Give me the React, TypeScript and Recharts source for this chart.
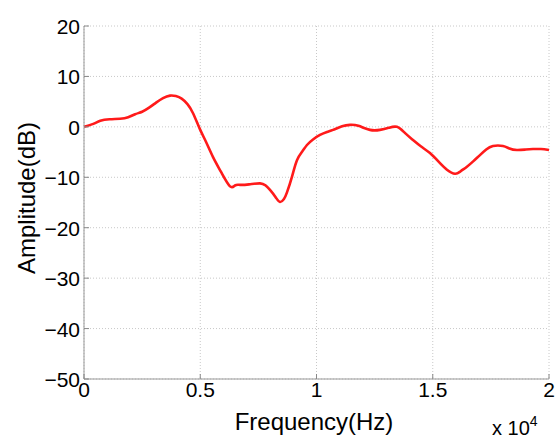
import React from 'react';
import { LineChart, Line, XAxis, YAxis, CartesianGrid, Label } from 'recharts';

const freqHz = [0, 400, 700, 1100, 1550, 1900, 2200, 2500, 2800, 3100, 3400, 3700, 3950, 4200, 4450, 4690, 4990, 5250, 5550, 5900, 6280, 6500, 6710, 7100, 7570, 7800, 8000, 8250, 8430, 8600, 8730, 8950, 9160, 9400, 9590, 9850, 10150, 10450, 10710, 11100, 11440, 11800, 12300, 12730, 13100, 13460, 13800, 14150, 14500, 14880, 15250, 15610, 15960, 16200, 16470, 16750, 17030, 17300, 17590, 18020, 18300, 18620, 19000, 19310, 19650, 20000];
const amplitudeDb = [0, 0.6, 1.2, 1.5, 1.6, 1.9, 2.5, 3.0, 3.8, 4.8, 5.7, 6.2, 6.1, 5.6, 4.5, 2.7, -0.5, -3.0, -6.0, -9.0, -11.8, -11.6, -11.5, -11.4, -11.2, -11.6, -12.5, -14.0, -14.9, -14.3, -13.0, -9.8, -6.6, -4.8, -3.6, -2.5, -1.6, -1.0, -0.6, 0.1, 0.4, 0.2, -0.6, -0.6, -0.2, 0.0, -1.2, -2.6, -3.9, -5.2, -6.9, -8.5, -9.3, -8.8, -7.9, -6.8, -5.6, -4.5, -3.8, -3.8, -4.3, -4.6, -4.5, -4.4, -4.4, -4.6];

const xTicks = [0, 5000, 10000, 15000, 20000];
const xTickLabels = ['0', '0.5', '1', '1.5', '2'];
const yTicks = [-50, -40, -30, -20, -10, 0, 10, 20];

const data = freqHz.map((f, i) => ({ f, a: amplitudeDb[i] }));

const FONT = '"Liberation Sans", Arial, sans-serif';

const XTick = (props: any) => {
  const { x, y, payload } = props;
  const idx = xTicks.indexOf(payload.value);
  return (
    <g>
      <line x1={x} x2={x} y1={y} y2={y - 5} stroke="#888" strokeWidth={1} />
      <text x={x} y={y + 18} textAnchor="middle" fontFamily={FONT} fontSize={21} fill="#000">
        {idx >= 0 ? xTickLabels[idx] : payload.value}
      </text>
    </g>
  );
};

const YTick = (props: any) => {
  const { x, y, payload } = props;
  const v = payload.value;
  const s = v < 0 ? '\u2212' + Math.abs(v) : String(v);
  return (
    <g>
      <line x1={x} x2={x + 5} y1={y} y2={y} stroke="#888" strokeWidth={1} />
      <text x={x - 4} y={y + 8} textAnchor="end" fontFamily={FONT} fontSize={21} fill="#000">
        {s}
      </text>
    </g>
  );
};

export default function App() {
  return (
    <div style={{ position: 'absolute', left: 0, top: 0, width: 555, height: 441, background: '#fff', overflow: 'hidden' }}>
      <LineChart width={555} height={441} data={data} margin={{ top: 26, right: 6, bottom: 0, left: 0 }}>
        <CartesianGrid stroke="#c8c8c8" strokeDasharray="1 2" horizontal vertical />
        <XAxis
          dataKey="f"
          type="number"
          domain={[0, 20000]}
          ticks={xTicks}
          interval={0}
          height={62}
          tickLine={false}
          tickSize={0}
          tickMargin={0}
          stroke="#999"
          tick={<XTick />}
        >
          <Label
            content={() => (
              <text x={314} y={430} textAnchor="middle" fontFamily={FONT} fontSize={24} fill="#000">
                Frequency(Hz)
              </text>
            )}
          />
        </XAxis>
        <YAxis
          type="number"
          domain={[-50, 20]}
          ticks={yTicks}
          interval={0}
          width={84}
          tickLine={false}
          tickSize={0}
          tickMargin={0}
          stroke="#999"
          tick={<YTick />}
        >
          <Label
            content={() => (
              <text x={35} y={198} transform="rotate(-90 35 198)" textAnchor="middle" fontFamily={FONT} fontSize={24} fill="#000">
                Amplitude(dB)
              </text>
            )}
          />
        </YAxis>
        <Line type="natural" dataKey="a" stroke="#ff1a1a" strokeWidth={2.6} dot={false} isAnimationActive={false} />
      </LineChart>
      <div style={{ position: 'absolute', left: 492, top: 418, fontFamily: FONT, fontSize: 20, color: '#000', whiteSpace: 'nowrap', lineHeight: '21px' }}>
        x 10<sup style={{ fontSize: 14, verticalAlign: 'top', position: 'relative', top: -7 }}>4</sup>
      </div>
    </div>
  );
}
